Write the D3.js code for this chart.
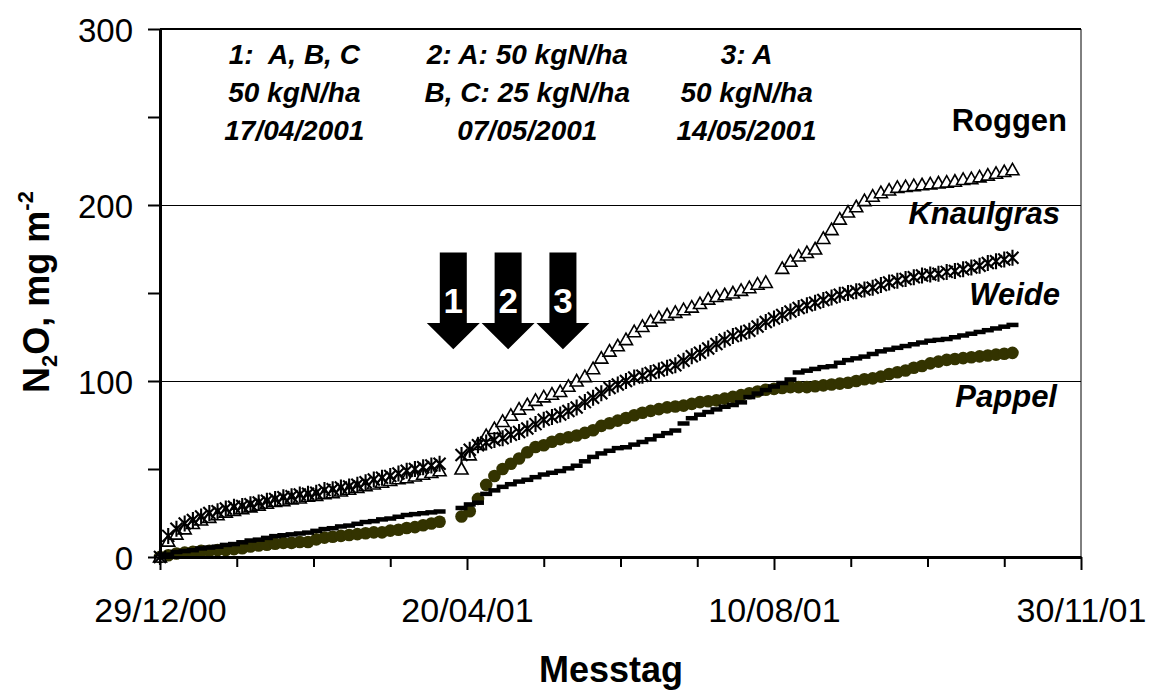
<!doctype html>
<html>
<head>
<meta charset="utf-8">
<title>N2O kumulativ</title>
<script src="https://d3js.org/d3.v7.min.js"></script>
<style>
  body { margin: 0; background: #fff; }
  svg text { font-family: "Liberation Sans", Arial, sans-serif; }
</style>
</head>
<body>
<div id="chart"></div>
<script>
// Messtage (Tage seit 29/12/00)
const days = [
  0, 3, 6, 9, 12, 15, 18, 21, 24, 27,
  30, 33, 36, 39, 42, 45, 48, 51, 54, 57,
  60, 63, 66, 69, 72, 75, 78, 81, 84, 87,
  90, 93, 96, 99, 102,
  110, 113, 116, 119, 122, 125, 128, 131, 134, 137,
  140, 143, 146, 149, 152, 155, 158, 161, 164, 167,
  170, 173, 176, 179, 182, 185, 188, 191, 194, 197,
  200, 203, 206, 209, 212, 215, 218, 221, 224, 227,
  230, 233, 236, 239, 242, 245, 248, 251, 254, 257,
  260, 263, 266, 269, 272, 275, 278, 281, 284, 287,
  290, 293, 296, 299, 302, 305, 308, 311
];

const roggen = [
  0, 9, 13, 16, 19, 21, 22.5, 24, 25.5, 26.5,
  27.5, 28.5, 29.5, 30.5, 31.5, 32, 33, 33.5, 34.5, 35,
  36, 36.5, 37.5, 38.5, 39.5, 40.5, 41.5, 42.5, 43.5, 44.5,
  45, 46, 47, 48, 49,
  50, 58, 64, 69, 73, 77, 80.5, 84, 86.5, 89,
  91, 92.5, 94, 97, 100, 102.5, 107, 113, 117, 120,
  123.5, 128, 131, 134, 136, 137.5, 139, 140.5, 142, 144,
  146.5, 148, 149, 150, 151.5, 153, 155, 156, null, 164,
  168, 171, 173, 175, 181, 186, 192, 196, 199, 202.5,
  205, 207, 208.5, 210, 210.5, 211, 211.5, 212, 212.5, 213,
  213.5, 214.5, 215, 216, 217, 218, 219, 220
];

const knaulgras = [
  0, 12, 16, 19, 21, 23, 25, 26, 27.5, 28.5,
  29, 30, 31, 32, 33, 34, 34.5, 35.5, 36, 36.5,
  38, 38.5, 39.5, 40, 41, 42.5, 44, 45, 46, 47.5,
  49, 50, 51, 52, 53,
  58, 61, 63.5, 65, 66.5, 67.5, 69.5, 71, 73, 75.5,
  78, 79.5, 81, 83, 85, 88, 90.5, 93, 96, 98,
  100, 102, 103, 104.5, 106, 107.5, 109, 111.5, 114, 116,
  118.5, 121, 123.5, 125.5, 127, 128.5, 131, 133.5, 135.5, 137.5,
  139.5, 141.5, 143, 144.5, 146, 147.5, 149, 150, 151, 152,
  153, 154.5, 156, 157, 158, 159, 160, 160.5, 161, 162,
  162.5, 163.5, 164.5, 165.5, 167, 168, 169, 170
];

const weide = [
  0, 1.5, 3, 3.5, 4, 5, 5.5, 6, 7, 7.5,
  8.5, 9.5, 10, 11, 12, 12.5, 13, 13.5, 14, 15,
  16, 16.5, 17.5, 18, 19, 20, 20.5, 21.5, 22, 23,
  24, 24.5, 25, 25.5, 26,
  28, 30, 31, 36, 38, 40, 41.5, 43, 44, 45.5,
  47, 48, 49, 50.5, 52, 54.5, 57, 59, 60.5, 62,
  62.5, 64, 65.5, 67, 69, 70.5, 72, 76, 79, 81,
  82.5, 84, 85.5, 86.5, 88, 91, 93, 95, 97, 99,
  101, 105, 106, 107, 108, 108.5, 110.5, 112, 113, 114,
  115.5, 117, 118, 119, 120, 121, 122, 123, 123.5, 124,
  125, 126, 127, 128, 129, 130, 131, 132
];

const pappel = [
  0, 1, 2, 2.5, 3, 3.5, 3.5, 4, 4, 4.5,
  5, 6, 6.5, 7, 7.5, 8, 8, 8.5, 8.5, 10,
  11, 11.5, 12, 12.5, 13, 13.5, 14, 14, 15, 15.5,
  16.5, 17, 18, 19, 20,
  23, 26, 33, 41, 46, 50, 53, 56, 59.5, 62.5,
  63.5, 65.5, 67, 68, 69, 70.5, 72, 74.5, 76, 77.5,
  79, 80.5, 82, 83, 84, 85, 85.5, 86, 87, 88,
  88.5, 89, 90, 91, 92, 93, 94, 95, 95.5, 96,
  96.5, 96.5, 96.5, 97, 97.5, 98, 98.5, 99, 100, 101,
  101.5, 102.5, 104, 105, 106, 107.5, 108.5, 110, 111, 112,
  112.5, 113, 113.5, 114, 114.5, 115, 115.5, 116
];

const yTicks = [0, 50, 100, 150, 200, 250, 300];
const yLabels = [0, 100, 200, 300];
const gridValues = [100, 200];
const xTickDays = [0, 28, 56, 84, 112, 140, 168, 196, 224, 252, 280, 308, 336];
const xLabelDays = [0, 112, 224, 336];

const arrowDays = [107, 127, 147];
const arrowLabels = ["1", "2", "3"];

const noteDays = [49, 134, 214];
const noteLines = [
  ["1:\u00A0 A, B, C", "50 kgN/ha", "17/04/2001"],
  ["2: A: 50 kgN/ha", "B, C: 25 kgN/ha", "07/05/2001"],
  ["3: A", "50 kgN/ha", "14/05/2001"]
];

const W = 1153, H = 693;
const mLeft = 160, mRight = 1081, mTop = 29, mBottom = 557;

const startDate = new Date(Date.UTC(2000, 11, 29));
const endDate = new Date(Date.UTC(2001, 10, 30));
const dayToDate = d => new Date(startDate.getTime() + d * 864e5);
const dayOf = dt => Math.round((dt - startDate) / 864e5);

const x = d3.scaleUtc().domain([startDate, endDate]).range([mLeft, mRight]);
const y = d3.scaleLinear().domain([0, 300]).range([mBottom, mTop]);

const svg = d3.select("#chart").append("svg")
  .attr("width", W).attr("height", H);

svg.append("rect").attr("width", W).attr("height", H).attr("fill", "#fff");

// gridlines
svg.selectAll("line.grid")
  .data(gridValues)
  .enter()
  .append("line")
  .attr("class", "grid")
  .attr("x1", mLeft).attr("x2", mRight)
  .attr("y1", d => Math.round(y(d)) + 0.5).attr("y2", d => Math.round(y(d)) + 0.5)
  .attr("stroke", "#000").attr("stroke-width", 1);

// frame top / right
svg.append("line").attr("x1", mLeft).attr("x2", mRight).attr("y1", mTop).attr("y2", mTop)
  .attr("stroke", "#000").attr("stroke-width", 2);
svg.append("line").attr("x1", mRight).attr("x2", mRight).attr("y1", mTop).attr("y2", mBottom)
  .attr("stroke", "#000").attr("stroke-width", 1);

// series
const pts = vals => days.map((d, i) => ({ d: dayToDate(d), v: vals[i] })).filter(p => p.v != null);

svg.append("g").selectAll("circle")
  .data(pts(pappel))
  .enter()
  .append("circle")
  .attr("cx", p => x(p.d)).attr("cy", p => y(p.v))
  .attr("r", 6.3)
  .attr("fill", "#333300");

svg.append("g").selectAll("rect")
  .data(pts(weide))
  .enter()
  .append("rect")
  .attr("x", p => x(p.d) - 6).attr("y", p => y(p.v) - 2)
  .attr("width", 12).attr("height", 4.5)
  .attr("fill", "#000");

svg.append("g").selectAll("path")
  .data(pts(roggen))
  .enter()
  .append("path")
  .attr("transform", p => "translate(" + x(p.d) + "," + y(p.v) + ")")
  .attr("d", "M0,-6.5 L6.5,5 L-6.5,5 Z")
  .attr("fill", "#fff")
  .attr("stroke", "#000")
  .attr("stroke-width", 1.6);

svg.append("g").selectAll("path")
  .data(pts(knaulgras))
  .enter()
  .append("path")
  .attr("transform", p => "translate(" + x(p.d) + "," + y(p.v) + ")")
  .attr("d", "M-6,-6 L6,6 M-6,6 L6,-6 M0,-8 L0,8")
  .attr("fill", "none")
  .attr("stroke", "#000")
  .attr("stroke-width", 2.1);

// axes
const yAxis = d3.axisLeft(y)
  .tickValues(yTicks)
  .tickSize(12)
  .tickSizeOuter(0)
  .tickPadding(15)
  .tickFormat(d => yLabels.includes(d) ? d : "");

const gy = svg.append("g")
  .attr("transform", "translate(" + mLeft + ",0)")
  .call(yAxis);
gy.select(".domain").attr("stroke-width", 3);
gy.selectAll(".tick line").attr("stroke-width", 2);
gy.selectAll(".tick text")
  .attr("font-size", 33)
  .attr("font-family", "Liberation Sans, Arial, sans-serif")
  .attr("dy", "0.37em")
  .attr("fill", "#000");

const xAxis = d3.axisBottom(x)
  .tickValues(xTickDays.map(dayToDate))
  .tickSize(10)
  .tickSizeOuter(0)
  .tickFormat(d => xLabelDays.includes(dayOf(d)) ? d3.utcFormat("%d/%m/%y")(d) : "");

const gx = svg.append("g")
  .attr("transform", "translate(0," + mBottom + ")")
  .call(xAxis);
gx.select(".domain").attr("stroke-width", 3);
gx.selectAll(".tick line")
  .attr("stroke-width", 2)
  .attr("y2", d => xLabelDays.includes(dayOf(d)) ? 13 : 10);
gx.selectAll(".tick text")
  .attr("font-size", 34)
  .attr("font-family", "Liberation Sans, Arial, sans-serif")
  .attr("y", 65)
  .attr("dy", 0)
  .attr("fill", "#000");

// arrows
const aTop = y(173), aNeck = y(133), aTip = y(118);
const arrows = svg.append("g").selectAll("g")
  .data(arrowDays)
  .enter()
  .append("g")
  .attr("transform", d => "translate(" + x(dayToDate(d)) + ",0)");
arrows.append("polygon")
  .attr("points", [
    [-13.5, aTop], [13.5, aTop], [13.5, aNeck], [26.5, aNeck],
    [0, aTip], [-26.5, aNeck], [-13.5, aNeck]
  ].map(p => p.join(",")).join(" "))
  .attr("fill", "#000");
arrows.append("text")
  .attr("x", 0).attr("y", aTop + 60)
  .attr("text-anchor", "middle")
  .attr("font-size", 35)
  .attr("font-weight", "bold")
  .attr("fill", "#fff")
  .text((d, i) => arrowLabels[i]);

// notes
const notes = svg.append("g").selectAll("text")
  .data(noteDays)
  .enter()
  .append("text")
  .attr("text-anchor", "middle")
  .attr("font-size", 28)
  .attr("font-weight", "bold")
  .attr("font-style", "italic");
notes.selectAll("tspan")
  .data((d, i) => noteLines[i].map(t => ({ t: t, d: d })))
  .enter()
  .append("tspan")
  .attr("x", p => x(dayToDate(p.d)))
  .attr("y", (p, j) => 64 + j * 38)
  .text(p => p.t);

// series labels
const seriesLabels = [
  { t: "Roggen", x: 1067, y: 131, it: false },
  { t: "Knaulgras", x: 1060, y: 224, it: true },
  { t: "Weide", x: 1060, y: 305, it: true },
  { t: "Pappel", x: 1057, y: 407, it: true }
];
svg.append("g").selectAll("text")
  .data(seriesLabels)
  .enter()
  .append("text")
  .attr("x", d => d.x).attr("y", d => d.y)
  .attr("text-anchor", "end")
  .attr("font-size", 31)
  .attr("font-weight", "bold")
  .attr("font-style", d => d.it ? "italic" : "normal")
  .text(d => d.t);

// axis titles
svg.append("text")
  .attr("x", 611).attr("y", 682)
  .attr("text-anchor", "middle")
  .attr("font-size", 36)
  .attr("font-weight", "bold")
  .text("Messtag");

const yt = svg.append("text")
  .attr("transform", "translate(49,292) rotate(-90)")
  .attr("text-anchor", "middle")
  .attr("font-size", 36)
  .attr("font-weight", "bold");
yt.append("tspan").text("N");
yt.append("tspan").attr("font-size", 22).attr("dy", 8).text("2");
yt.append("tspan").attr("dy", -8).text("O, mg m");
yt.append("tspan").attr("font-size", 22).attr("dy", -16).text("-2");
</script>
</body>
</html>
